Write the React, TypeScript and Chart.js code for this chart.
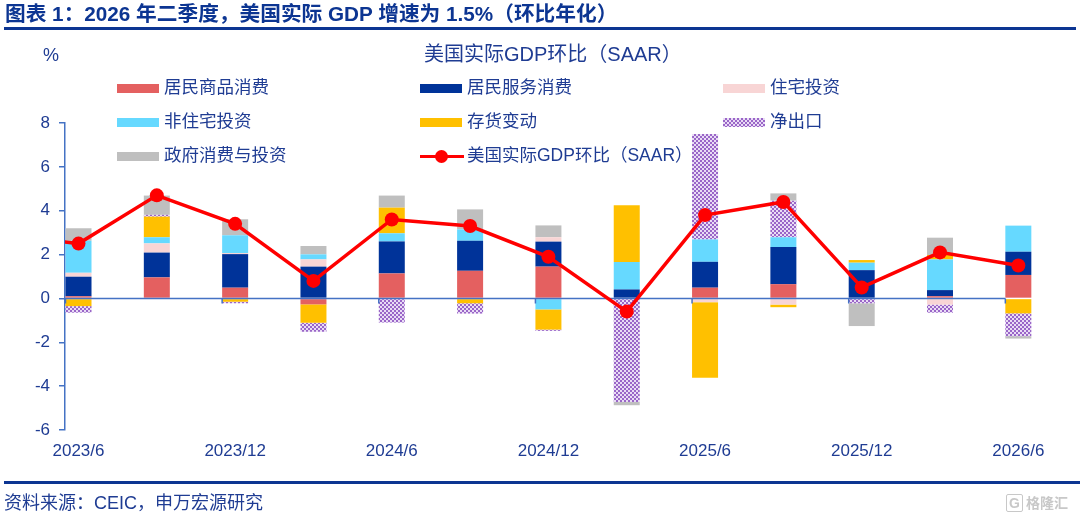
import { useEffect, useRef } from "react";
import { Chart, registerables } from "chart.js";

Chart.register(...registerables);

// quarters on the axis; 2023/3 is only there so the GDP line runs in from the left edge
const quarters = [
  "2023/3", "2023/6", "2023/9", "2023/12", "2024/3", "2024/6", "2024/9",
  "2024/12", "2025/3", "2025/6", "2025/9", "2025/12", "2026/3", "2026/6",
];
const labelledQuarters = ["2023/6", "2023/12", "2024/6", "2024/12", "2025/6", "2025/12", "2026/6"];

// contributions to growth (pct pts, SAAR), 2023/6 .. 2026/6
const goods = [0.1, 0.96, 0.49, -0.27, 1.14, 1.26, 1.45, 0, 0.49, 0.65, 0, 0.1, 1.07];
const services = [0.89, 1.13, 1.53, 1.45, 1.46, 1.37, 1.14, 0.41, 1.18, 1.69, 1.29, 0.28, 1.06];
const residential = [0.18, 0.42, 0.05, 0.33, 0, 0, 0.2, 0, -0.17, -0.28, 0, -0.28, 0];
const nonResidential = [1.46, 0.28, 0.81, 0.23, 0.37, 0.52, -0.5, 1.25, 1.02, 0.45, 0.34, 1.4, 1.19];
const inventories = [-0.35, 0.94, -0.15, -0.84, 1.17, -0.22, -0.92, 2.59, -3.45, -0.12, 0.12, 0.2, -0.68];
const netExports = [-0.3, 0.08, -0.07, -0.41, -1.1, -0.47, -0.06, -4.72, 4.81, 1.67, -0.22, -0.37, -1.04];
const government = [0.57, 0.88, 0.73, 0.38, 0.55, 0.91, 0.54, -0.15, 0, 0.33, -1.04, 0.79, -0.11];

// real GDP q/q SAAR, 2023/3 .. 2026/6
const gdp = [2.9, 2.5, 4.7, 3.4, 0.8, 3.6, 3.3, 1.9, -0.6, 3.8, 4.4, 0.5, 2.1, 1.5];

const yMin = -6;
const yMax = 8;

const TEXT = "#1f3c93";
const AXIS = "#4472c4";
const FONT = '"Liberation Sans", Arial, "Noto Sans CJK SC", sans-serif';

const colors = {
  goods: "#e46060",
  services: "#003399",
  residential: "#f8d5d5",
  nonResidential: "#66d9ff",
  inventories: "#ffc000",
  netExports: "#9a66c8",
  government: "#bfbfbf",
  gdp: "#ff0000",
};

const hatchCss = "repeating-conic-gradient(#9a66c8 0 25%, #e9dcf5 0 50%) 0 0 / 4px 4px";

function makeHatch(ctx: CanvasRenderingContext2D) {
  const c = document.createElement("canvas");
  c.width = 4;
  c.height = 4;
  const p = c.getContext("2d")!;
  p.fillStyle = "#e9dcf5";
  p.fillRect(0, 0, 4, 4);
  p.fillStyle = "#9a66c8";
  p.fillRect(0, 0, 2, 2);
  p.fillRect(2, 2, 2, 2);
  return ctx.createPattern(c, "repeat");
}

// horizontal axis at y=0, ending at the last bar's left edge, ticks under every labelled bar
const zeroAxis = {
  id: "zeroAxis",
  beforeDatasetDraw(chart: any, args: any) {
    if (args.index !== 0) return;
    const { ctx, chartArea, scales } = chart;
    const y0 = scales.y.getPixelForValue(0);
    const bars = chart.getDatasetMeta(1).data as any[];
    const edge = (i: number) => bars[i].x - bars[i].width / 2;
    ctx.save();
    ctx.strokeStyle = AXIS;
    ctx.lineWidth = 1.5;
    ctx.beginPath();
    ctx.moveTo(chartArea.left, y0);
    ctx.lineTo(edge(bars.length - 1), y0);
    bars.forEach((_, i) => {
      if (i % 2 === 0) {
        ctx.moveTo(edge(i), y0);
        ctx.lineTo(edge(i), y0 + 5);
      }
    });
    ctx.stroke();
    ctx.restore();
  },
};

function GdpChart() {
  const canvasRef = useRef<HTMLCanvasElement>(null);
  const chartRef = useRef<Chart | null>(null);

  useEffect(() => {
    if (!canvasRef.current) return;
    if (chartRef.current) chartRef.current.destroy();
    const ctx = canvasRef.current.getContext("2d");
    if (!ctx) return;

    const bar = (label: string, values: number[], color: any) => ({
      type: "bar" as const,
      label,
      data: values.map((v, i) => ({ x: i + 1, y: v })),
      backgroundColor: color,
      borderWidth: 0,
      stack: "parts",
      barPercentage: 0.332,
      categoryPercentage: 1,
    });

    chartRef.current = new Chart(ctx, {
      type: "bar",
      data: {
        datasets: [
          {
            type: "line",
            label: "美国实际GDP环比（SAAR）",
            data: gdp.map((v, i) => ({ x: i, y: v })),
            borderColor: colors.gdp,
            backgroundColor: colors.gdp,
            borderWidth: 3.5,
            pointRadius: gdp.map((_, i) => (i === 0 ? 0 : 7)),
            pointBorderWidth: 0,
            pointBackgroundColor: colors.gdp,
            tension: 0,
            stack: "gdp",
          } as any,
          bar("居民商品消费", goods, colors.goods),
          bar("居民服务消费", services, colors.services),
          bar("住宅投资", residential, colors.residential),
          bar("非住宅投资", nonResidential, colors.nonResidential),
          bar("存货变动", inventories, colors.inventories),
          bar("净出口", netExports, makeHatch(ctx)),
          bar("政府消费与投资", government, colors.government),
        ],
      },
      options: {
        animation: false,
        responsive: true,
        maintainAspectRatio: false,
        events: [],
        layout: { padding: { left: 0, top: 123, right: 46, bottom: 47 } },
        plugins: { legend: { display: false }, tooltip: { enabled: false } },
        scales: {
          x: {
            type: "linear",
            stacked: true,
            offset: false,
            min: 0.8276,
            max: 13.2,
            grid: { display: false, drawTicks: false },
            border: { display: false },
            afterBuildTicks: (s: any) => {
              s.ticks = labelledQuarters.map((q) => ({ value: quarters.indexOf(q) }));
            },
            afterFit: (s: any) => {
              s.height = 40;
            },
            ticks: {
              autoSkip: false,
              maxRotation: 0,
              padding: 11,
              color: TEXT,
              font: { family: FONT, size: 17 },
              callback: (v: any) => quarters[v as number],
            },
          },
          y: {
            stacked: true,
            min: yMin,
            max: yMax,
            grid: { drawOnChartArea: false, drawTicks: true, tickLength: 6, color: AXIS, lineWidth: 1.5 },
            border: { display: true, color: AXIS, width: 1.5 },
            afterFit: (s: any) => {
              s.width = 65;
            },
            ticks: {
              stepSize: 2,
              padding: 9,
              color: TEXT,
              font: { family: FONT, size: 17 },
            },
          },
        },
      } as any,
      plugins: [zeroAxis],
    });

    return () => {
      if (chartRef.current) {
        chartRef.current.destroy();
        chartRef.current = null;
      }
    };
  }, []);

  return <canvas ref={canvasRef} />;
}

type LegendItem = { label: string; swatch: any; line?: boolean; x: number; y: number };

const legendItems: LegendItem[] = [
  { label: "居民商品消费", swatch: colors.goods, x: 117, y: 88 },
  { label: "居民服务消费", swatch: colors.services, x: 420, y: 88 },
  { label: "住宅投资", swatch: colors.residential, x: 723, y: 88 },
  { label: "非住宅投资", swatch: colors.nonResidential, x: 117, y: 122 },
  { label: "存货变动", swatch: colors.inventories, x: 420, y: 122 },
  { label: "净出口", swatch: hatchCss, x: 723, y: 122 },
  { label: "政府消费与投资", swatch: colors.government, x: 117, y: 156 },
  { label: "美国实际GDP环比（SAAR）", swatch: colors.gdp, line: true, x: 420, y: 156 },
];

function abs(x: number, y: number, extra: any = {}) {
  return { position: "absolute" as const, left: x, top: y, transform: "translateY(-50%)", lineHeight: 1, whiteSpace: "nowrap" as const, ...extra };
}

export default function App() {
  return (
    <div
      style={{
        position: "absolute",
        left: 0,
        top: 0,
        width: 1080,
        height: 517,
        background: "#fff",
        fontFamily: FONT,
        color: TEXT,
        overflow: "hidden",
      }}
    >
      <div style={{ position: "absolute", left: 0, top: 0, width: 1080, height: 517 }}>
        <GdpChart />
      </div>

      <div style={abs(5, 14, { fontSize: 20.7, fontWeight: "bold", color: "#0c3592" })}>
        图表 1：2026 年二季度，美国实际 GDP 增速为 1.5%（环比年化）
      </div>
      <div style={{ position: "absolute", left: 4, top: 27, width: 1072, height: 2.5, background: "#0c3592" }} />

      <div style={abs(43, 55, { fontSize: 18 })}>%</div>
      <div style={abs(424, 54, { fontSize: 20 })}>美国实际GDP环比（SAAR）</div>

      {legendItems.map((it) => (
        <div key={it.label}>
          {it.line ? (
            <div style={{ position: "absolute", left: it.x, top: it.y - 6.5, width: 44, height: 13 }}>
              <div style={{ position: "absolute", left: 0, top: 5, width: 44, height: 3.5, background: it.swatch }} />
              <div style={{ position: "absolute", left: 15, top: 0, width: 13, height: 13, borderRadius: "50%", background: it.swatch }} />
            </div>
          ) : (
            <div style={{ position: "absolute", left: it.x, top: it.y - 4.5, width: 42, height: 9, background: it.swatch }} />
          )}
          <div style={abs(it.x + 47, it.y, { fontSize: 17.5 })}>{it.label}</div>
        </div>
      ))}

      <div style={{ position: "absolute", left: 4, top: 481, width: 1076, height: 2.5, background: "#0c3592" }} />
      <div style={abs(4, 503, { fontSize: 18 })}>资料来源：CEIC，申万宏源研究</div>
      <div style={abs(1006, 503, { fontSize: 14, color: "#c8c8c8", fontWeight: "bold" })}>
        <span style={{ border: "1.5px solid #c8c8c8", borderRadius: 2, padding: "0 2px", marginRight: 3 }}>G</span>格隆汇
      </div>
    </div>
  );
}
